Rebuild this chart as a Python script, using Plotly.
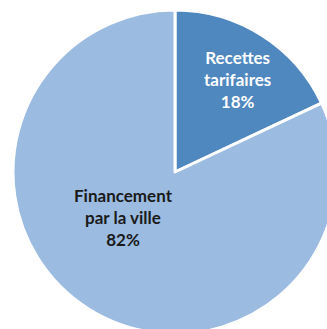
import plotly.graph_objects as go

labels = ["Recettes<br>tarifaires", "Financement<br>par la ville"]
values = [18, 82]
slice_colors = ["#4f87bf", "#9bbbe1"]
text_colors = ["#ffffff", "#1a1a1a"]
# label anchor in paper coords (inside the pie domain)
label_pos = [(0.694, 0.787), (0.340, 0.361)]

fig = go.Figure(
    go.Pie(
        labels=labels,
        values=values,
        sort=False,
        direction="clockwise",
        rotation=0,
        marker={"colors": slice_colors, "line": {"color": "#ffffff", "width": 3}},
        textinfo="none",
        hoverinfo="label+percent",
        showlegend=False,
    )
)

total = sum(values)
for label, value, color, (x, y) in zip(labels, values, text_colors, label_pos):
    fig.add_annotation(
        x=x,
        y=y,
        xref="paper",
        yref="paper",
        xanchor="center",
        yanchor="middle",
        text=f"<b>{label}<br>{round(100 * value / total)}%</b>",
        showarrow=False,
        align="center",
        font={"color": color, "size": 17, "family": "Lato"},
    )

# pie is larger than the window, so the figure overflows to the right and bottom
fig.update_layout(
    width=345,
    height=345,
    margin={"l": 13, "r": 8, "t": 10, "b": 11},
    paper_bgcolor="#ffffff",
    plot_bgcolor="#ffffff",
)

fig.write_html(
    "out.html",
    config={"displayModeBar": False},
    post_script="document.body.style.margin='0';document.body.style.overflow='hidden';",
)
